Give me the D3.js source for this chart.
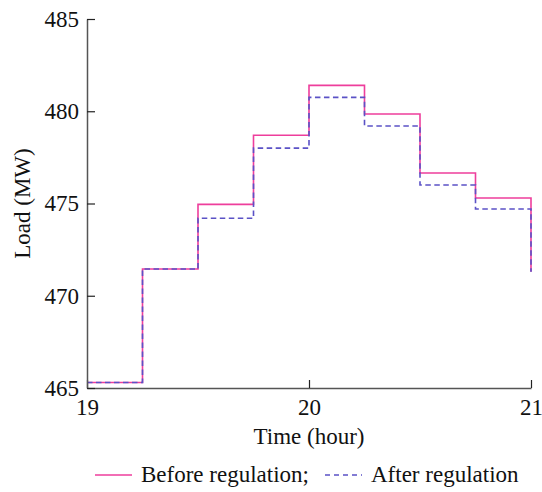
<!DOCTYPE html>
<html>
<head>
<meta charset="utf-8">
<script src="https://cdn.jsdelivr.net/npm/d3@7"></script>
<style>
    body { margin: 0; background: #fff; }
    svg { display: block; }
    svg text { font-family: "Liberation Serif", "Times New Roman", serif; }
</style>
</head>
<body>
<div id="chart"></div>
<script>
// hours at each step change, last one closes the final step
const hours = [19, 19.25, 19.5, 19.75, 20, 20.25, 20.5, 20.75, 21];
const beforeLoad = [465.3, 471.45, 474.95, 478.7, 481.4, 479.85, 476.65, 475.3, 471.3];
const afterLoad = [465.3, 471.45, 474.2, 478.0, 480.75, 479.2, 476.0, 474.7, 471.3];
const xTicks = [19, 20, 21];
const yTicks = [465, 470, 475, 480, 485];
const seriesNames = ["Before regulation;", "After regulation"];

document.addEventListener('DOMContentLoaded', function() {
    const width = 542;
    const height = 492;
    const margin = { top: 19, right: 11, bottom: 104, left: 87 };

    const svg = d3.select("#chart").append("svg")
        .attr("width", width)
        .attr("height", height);

    const x = d3.scaleLinear()
        .domain([19, 21])
        .range([margin.left, width - margin.right]);

    const y = d3.scaleLinear()
        .domain([465, 485])
        .range([height - margin.bottom, margin.top]);

    const series = [
        { name: seriesNames[0], values: beforeLoad, color: "#ee3e9c", dash: null },
        { name: seriesNames[1], values: afterLoad, color: "#5b52c6", dash: "5.5,3.5" }
    ];

    const line = d3.line()
        .x(d => x(d[0]))
        .y(d => y(d[1]))
        .curve(d3.curveStepAfter);

    // step lines, dashed one on top
    svg.append("g")
        .attr("fill", "none")
        .selectAll("path")
        .data(series)
        .join("path")
        .attr("d", s => line(hours.map((h, i) => [h, s.values[i]])))
        .attr("stroke", s => s.color)
        .attr("stroke-width", 1.6)
        .attr("stroke-dasharray", s => s.dash);

    // axes, ticks pointing inward
    const xAxis = svg.append("g")
        .attr("transform", `translate(0,${height - margin.bottom})`)
        .call(d3.axisBottom(x).tickValues(xTicks).tickFormat(d3.format("d"))
            .tickSizeInner(-8).tickSizeOuter(0).tickPadding(11));

    const yAxis = svg.append("g")
        .attr("transform", `translate(${margin.left},0)`)
        .call(d3.axisLeft(y).tickValues(yTicks).tickFormat(d3.format("d"))
            .tickSizeInner(-8).tickSizeOuter(0).tickPadding(8));

    [xAxis, yAxis].forEach(g => {
        g.attr("font-family", null).attr("font-size", null);
        g.select(".domain").attr("stroke", "#555").attr("stroke-width", 1.5);
        g.selectAll(".tick line").attr("stroke", "#222").attr("stroke-width", 1.2);
        g.selectAll(".tick text")
            .attr("fill", "#111")
            .attr("font-size", 23);
    });

    svg.append("text")
        .attr("x", (margin.left + width - margin.right) / 2)
        .attr("y", 444)
        .attr("text-anchor", "middle")
        .attr("fill", "#111")
        .attr("font-size", 23)
        .text("Time (hour)");

    svg.append("text")
        .attr("transform", `translate(30,${(margin.top + height - margin.bottom) / 2}) rotate(-90)`)
        .attr("text-anchor", "middle")
        .attr("fill", "#111")
        .attr("font-size", 23)
        .text("Load (MW)");

    // legend
    const legendX = [95, 325];
    const legend = svg.append("g")
        .selectAll("g")
        .data(series)
        .join("g")
        .attr("transform", (d, i) => `translate(${legendX[i]},475)`);

    legend.append("line")
        .attr("x1", 0)
        .attr("x2", 37)
        .attr("stroke", d => d.color)
        .attr("stroke-width", 1.6)
        .attr("stroke-dasharray", d => d.dash ? "5,4" : null);

    legend.append("text")
        .attr("x", 46)
        .attr("y", 7)
        .attr("fill", "#111")
        .attr("font-size", 23)
        .text(d => d.name);
});
</script>
</body>
</html>
